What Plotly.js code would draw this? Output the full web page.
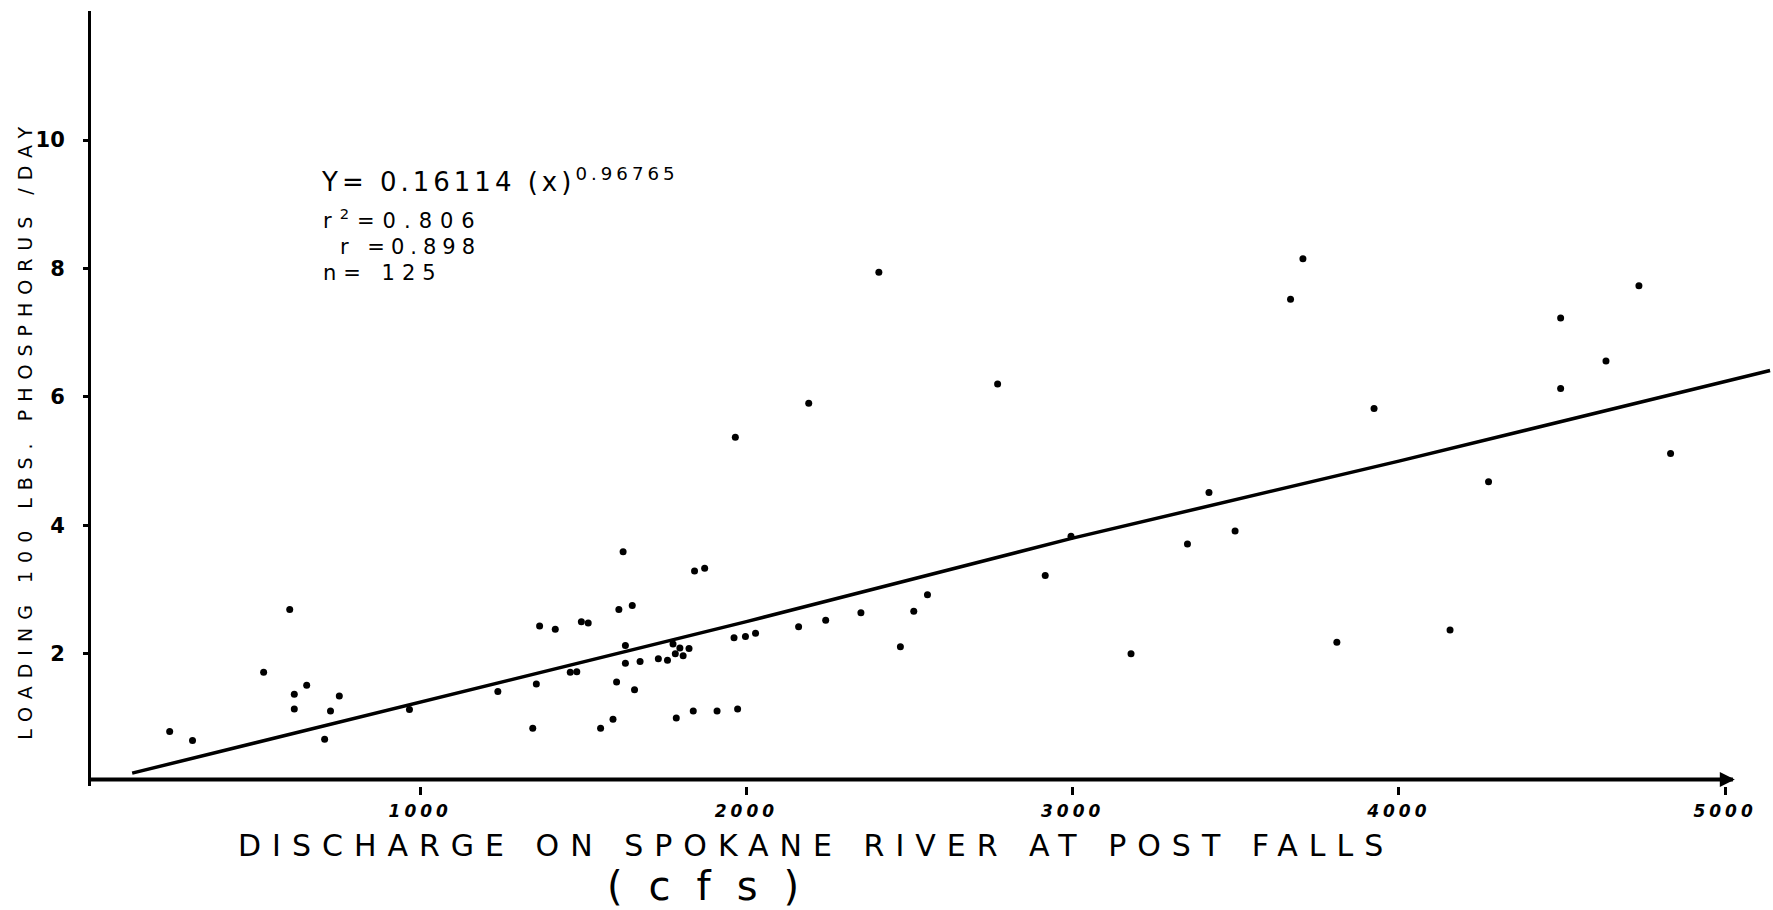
<!DOCTYPE html>
<html>
<head>
<meta charset="utf-8">
<script src="https://cdn.plot.ly/plotly-3.0.1.min.js"></script>
<style>
html, body { margin: 0; padding: 0; background: #ffffff; }
#chart { width: 1773px; height: 910px; }
.annotation[data-index="0"] .annotation-text { letter-spacing: 8px; }
.annotation[data-index="1"] .annotation-text { letter-spacing: 11px; }
.annotation[data-index="2"] .annotation-text { letter-spacing: 26px; }
.annotation[data-index="3"] .annotation-text { letter-spacing: 4px; }
.annotation[data-index="4"] .annotation-text { letter-spacing: 8px; }
.annotation[data-index="5"] .annotation-text { letter-spacing: 6px; }
.annotation[data-index="6"] .annotation-text { letter-spacing: 7px; }
.xtick text { letter-spacing: 4px; }
</style>
</head>
<body>
<div id="chart"></div>
<script>
// Observed samples: discharge (cfs) and phosphorus loading (100 lbs/day)
const dischargeCfs = [232,302,520,600,614,614,652,707,725,752,
  967,1238,1345,1356,1366,1414,1460,1480,1494,1515,
  1553,1591,1602,1609,1622,1629,1650,1657,1629,1674,
  1730,1758,1775,1782,1796,1806,1824,1785,1837,1910,
  1973,1841,1872,1966,1962,1997,2028,2160,2191,2243,
  2351,2406,2472,2513,2555,2770,2916,2995,3179,3352,
  3418,3498,3668,3706,3810,3924,4275,4157,4496,4496,
  4635,4736,4833];
const loading100Lbs = [0.79,0.65,1.71,2.69,1.37,1.14,1.51,0.67,1.11,1.34,
  1.13,1.41,0.84,1.53,2.43,2.38,1.71,1.72,2.50,2.48,
  0.84,0.98,1.56,2.69,3.59,2.13,2.75,1.44,1.85,1.88,
  1.92,1.90,2.15,2.00,2.09,1.97,2.08,1.00,1.11,1.11,
  1.14,3.29,3.33,5.37,2.25,2.27,2.32,2.42,5.90,2.52,
  2.64,7.94,2.11,2.66,2.92,6.20,3.22,3.83,2.00,3.71,
  4.51,3.91,7.52,8.15,2.18,5.82,4.68,2.37,7.23,6.13,
  6.56,7.73,5.12];

// Fitted curve
const fitDischarge = [117, 1000, 2000, 3000, 4000, 5138];
const fitLoading = [0.14, 1.25, 2.50, 3.80, 5.00, 6.41];

const xTickValues = [1000, 2000, 3000, 4000, 5000];
const xTickLabels = ['1000', '2000', '3000', '4000', '5000'];
const yTickValues = [2, 4, 6, 8, 10];
const yTickLabels = ['2', '4', '6', '8', '10'];

const xTitle = 'DISCHARGE ON SPOKANE RIVER AT POST FALLS';
const xUnits = '(cfs)';
const yTitle = 'LOADING 100 LBS. PHOSPHORUS /DAY';
const eqLines = ['Y= 0.16114 (x)<sup>0.96765</sup>', 'r<sup>2</sup>=0.806', 'r =0.898', 'n= 125'];

const FONT = 'DejaVu Sans, sans-serif';

const traces = [
  {
    x: fitDischarge, y: fitLoading, type: 'scatter', mode: 'lines',
    line: { color: '#000', width: 3.5 }, hoverinfo: 'skip', showlegend: false
  },
  {
    x: dischargeCfs, y: loading100Lbs, type: 'scatter', mode: 'markers',
    marker: { color: '#000', size: 7 }, showlegend: false
  }
];

// pixel helpers for paper placement
const L = 91, R = 1773, T = 11, B = 786.4;
const px = v => (v - L) / (R - L);
const py = v => (B - v) / (B - T);

const layout = {
  width: 1773, height: 910,
  margin: { l: L, r: 1773 - R, t: T, b: 910 - B, pad: 0 },
  paper_bgcolor: '#ffffff', plot_bgcolor: '#ffffff',
  showlegend: false,
  font: { family: FONT, color: '#000' },
  xaxis: {
    range: [-9.2, 5147], showgrid: false, zeroline: false, showline: false,
    tickmode: 'array', tickvals: xTickValues, ticktext: xTickLabels,
    ticks: 'outside', ticklen: 8, tickwidth: 3, tickcolor: '#000',
    ticklabelstandoff: 2,
    tickfont: { family: FONT, size: 17, color: '#000', weight: 'bold', style: 'italic' }
  },
  yaxis: {
    range: [-0.06, 12.01], showgrid: false, zeroline: false,
    showline: true, linecolor: '#000', linewidth: 3,
    tickmode: 'array', tickvals: yTickValues, ticktext: yTickLabels,
    ticks: 'outside', ticklen: 5, tickwidth: 3, tickcolor: '#000',
    ticklabelstandoff: 14,
    tickfont: { family: FONT, size: 21, color: '#000', weight: 'bold' }
  },
  shapes: [
    { type: 'line', xref: 'x', yref: 'y', x0: -9.2, x1: 5024, y0: 0.04, y1: 0.04,
      line: { color: '#000', width: 4 } }
  ],
  annotations: [
    { text: yTitle, xref: 'paper', yref: 'paper', x: px(25), y: py(430),
      textangle: -90, showarrow: false, xanchor: 'center', yanchor: 'middle',
      font: { family: FONT, size: 19, color: '#000' } },
    { text: xTitle, xref: 'paper', yref: 'paper', x: px(816), y: py(846),
      showarrow: false, xanchor: 'center', yanchor: 'middle',
      font: { family: FONT, size: 30, color: '#000' } },
    { text: xUnits, xref: 'paper', yref: 'paper', x: px(716), y: py(886),
      showarrow: false, xanchor: 'center', yanchor: 'middle',
      font: { family: FONT, size: 40, color: '#000' } },
    { text: eqLines[0], xref: 'paper', yref: 'paper', x: px(500), y: py(180),
      showarrow: false, xanchor: 'center', yanchor: 'middle',
      font: { family: FONT, size: 26, color: '#000' } },
    { text: eqLines[1], xref: 'paper', yref: 'paper', x: px(403), y: py(219),
      showarrow: false, xanchor: 'center', yanchor: 'middle',
      font: { family: FONT, size: 21, color: '#000' } },
    { text: eqLines[2], xref: 'paper', yref: 'paper', x: px(410), y: py(247),
      showarrow: false, xanchor: 'center', yanchor: 'middle',
      font: { family: FONT, size: 21, color: '#000' } },
    { text: eqLines[3], xref: 'paper', yref: 'paper', x: px(383), y: py(273),
      showarrow: false, xanchor: 'center', yanchor: 'middle',
      font: { family: FONT, size: 21, color: '#000' } },
    { text: '', xref: 'x', yref: 'y', x: 5030, y: 0.04, axref: 'pixel', ayref: 'pixel',
      ax: -24, ay: 0, showarrow: true, arrowhead: 2, arrowsize: 1, arrowwidth: 3,
      arrowcolor: '#000' }
  ]
};

Plotly.newPlot('chart', traces, layout, { staticPlot: true, displayModeBar: false });
</script>
</body>
</html>
